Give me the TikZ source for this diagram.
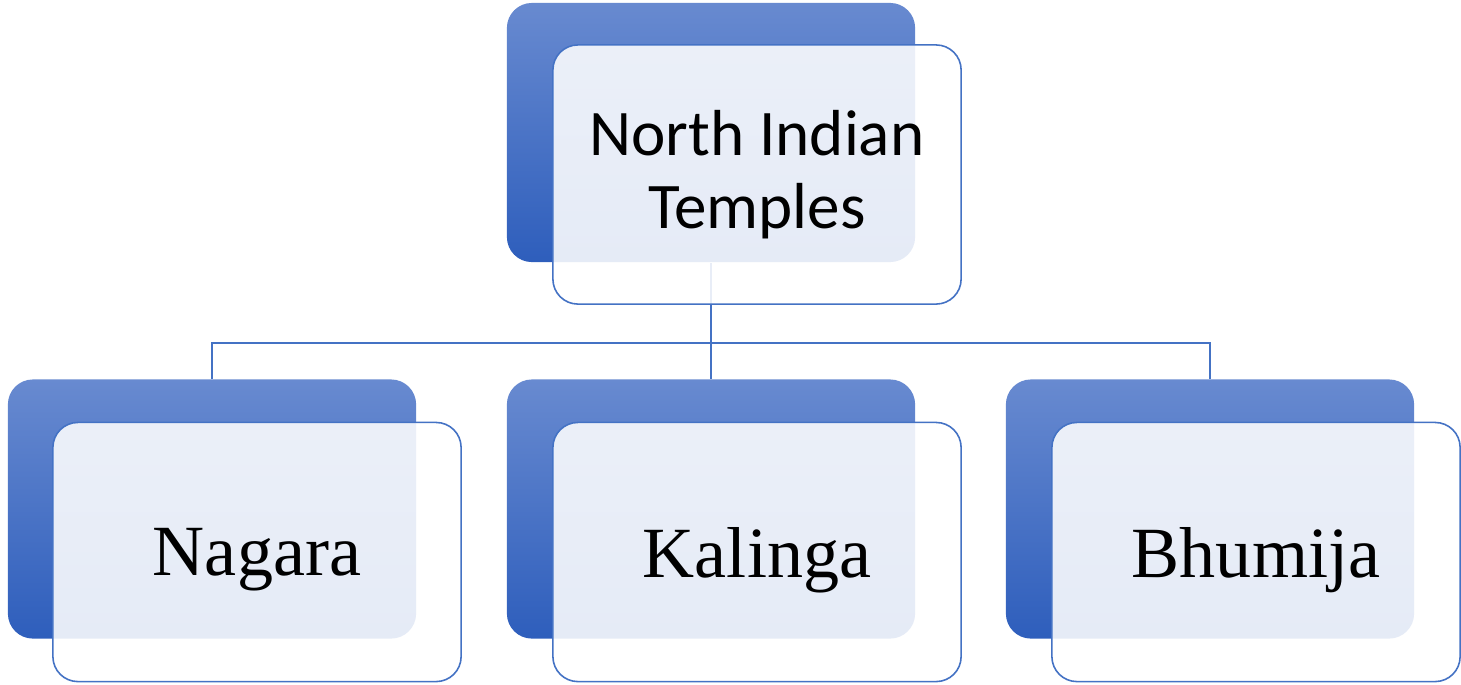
\documentclass[tikz,border=0pt]{standalone}
\usepackage{fontspec}
\newfontfamily\headfont{Carlito}
\newfontfamily\leaffont{Liberation Serif}
\usepackage{tikz}
\definecolor{backtop}{RGB}{104,138,208}
\definecolor{backbottom}{RGB}{46,94,188}
\definecolor{edgeblue}{RGB}{68,114,196}

\begin{document}
\begin{tikzpicture}[x=0.01cm, y=-0.01cm,
    backbox/.style={rounded corners=0.25cm, minimum width=4.08cm, minimum height=2.59cm, inner sep=0pt, top color=backtop, bottom color=backbottom},
    frontbox/.style={rounded corners=0.25cm, minimum width=4.08cm, minimum height=2.59cm, inner sep=0pt, draw=edgeblue, line width=0.45pt, fill=white, fill opacity=0.88, text opacity=1},
    leaf/.style={frontbox, text depth=0pt, font=\leaffont\fontsize{20.5}{24}\selectfont},
    link/.style={draw=edgeblue, line width=0.6pt}]
        \useasboundingbox (0,0) rectangle (1461,684);
        \node[backbox] (rootback) at (711,132.5) {};
        \node[backbox] (nagaraback) at (212,509) {};
        \node[backbox] (kalingaback) at (711,509) {};
        \node[backbox] (bhumijaback) at (1210,509) {};
        \coordinate (bus) at (711,343);
        \path[link] (rootback.south) -- (bus) -| (nagaraback.north);
        \path[link] (bus) -| (bhumijaback.north);
        \path[link] (bus) -- (kalingaback.north);
        \node[frontbox, align=center, font=\headfont\fontsize{18.5}{20.8}\selectfont] (root) at (757,174.5) {North Indian\\Temples};
        \node[leaf] (nagara) at (257,552) {Nagara};
        \node[leaf] (kalinga) at (757,552) {Kalinga};
        \node[leaf] (bhumija) at (1256,552) {Bhumija};
\end{tikzpicture}
\end{document}
